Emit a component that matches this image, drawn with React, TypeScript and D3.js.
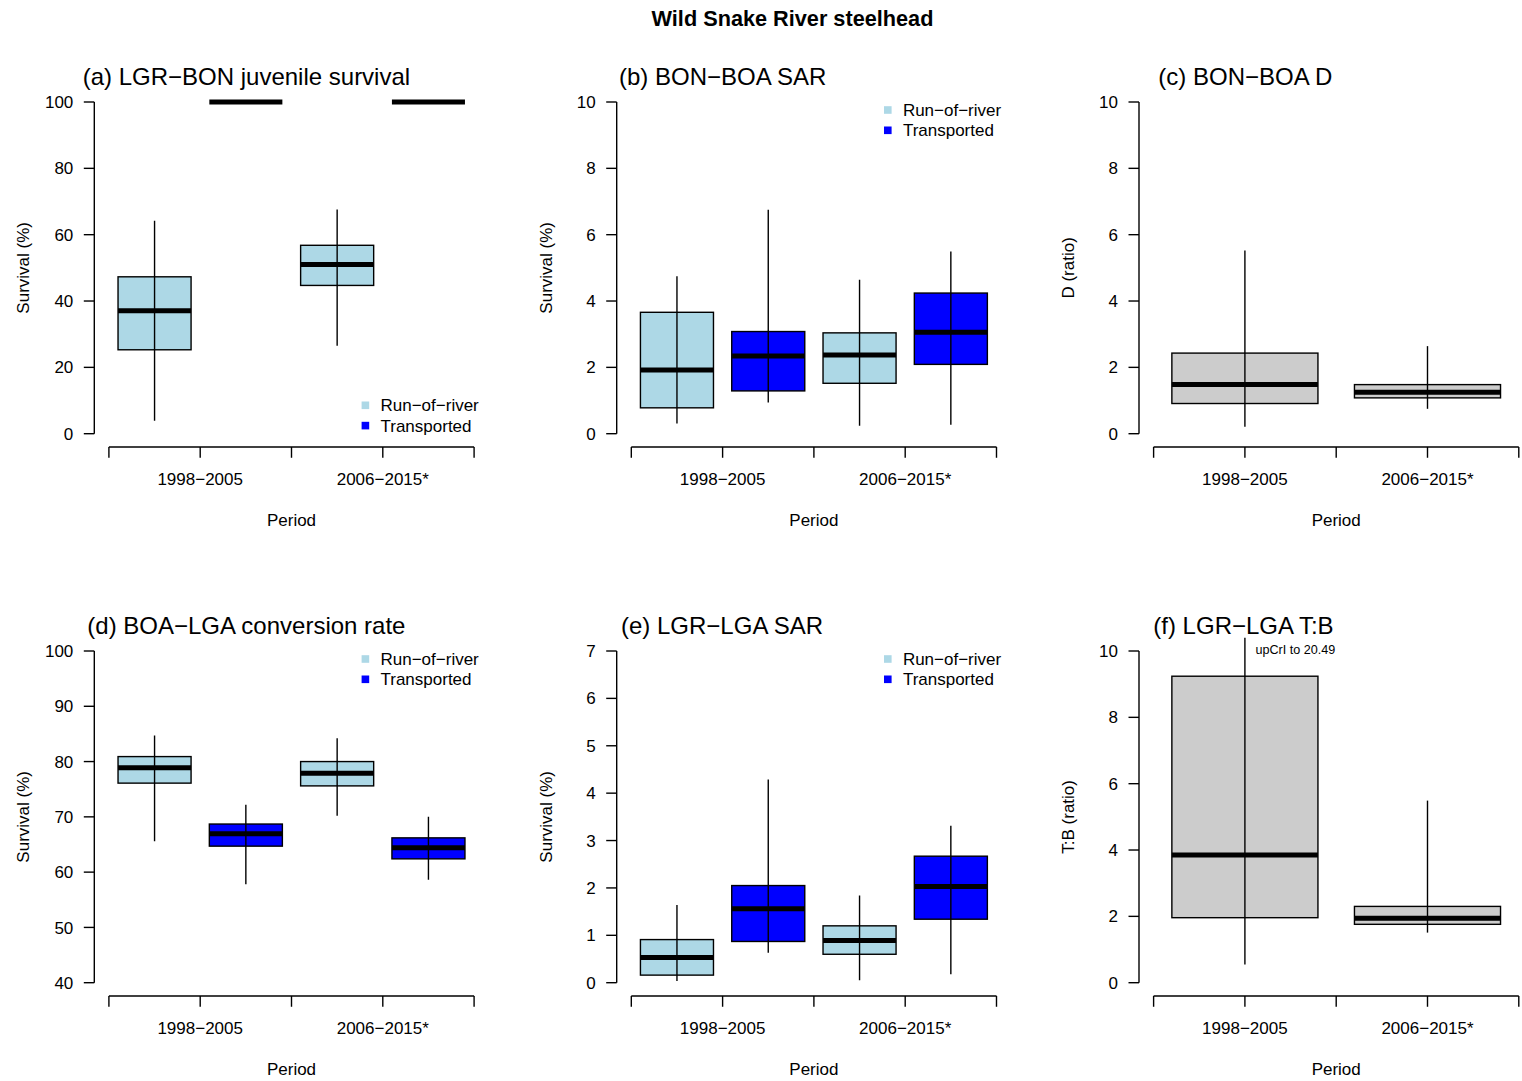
import React from "react";
import * as d3 from "d3";

// Period labels and group names
const PERIODS = ["1998−2005", "2006−2015*"];
const GROUP_NAMES = ["Run−of−river", "Transported"];
const GROUP_COLORS = ["#ADD8E6", "#0000FF"];
const RATIO_COLOR = "#CCCCCC";

// Box statistics per period: [lower CrI, Q1, median, Q3, upper CrI]
const juvSurvivalRoR = [[3.9, 25.3, 37.1, 47.3, 64.2], [26.5, 44.7, 51.0, 56.8, 67.6]];
const juvSurvivalTrans = [[100, 100, 100, 100, 100], [100, 100, 100, 100, 100]];
const bonBoaSarRoR = [[0.31, 0.78, 1.92, 3.66, 4.75], [0.24, 1.52, 2.37, 3.04, 4.64]];
const bonBoaSarTrans = [[0.94, 1.29, 2.34, 3.08, 6.75], [0.27, 2.09, 3.06, 4.24, 5.49]];
const bonBoaD = [[0.21, 0.91, 1.48, 2.43, 5.52], [0.75, 1.08, 1.25, 1.48, 2.64]];
const conversionRoR = [[65.6, 76.1, 78.9, 80.9, 84.7], [70.2, 75.6, 77.9, 80.0, 84.2]];
const conversionTrans = [[57.8, 64.7, 66.95, 68.7, 72.2], [58.6, 62.4, 64.4, 66.2, 70.0]];
const lgrLgaSarRoR = [[0.035, 0.16, 0.53, 0.91, 1.64], [0.05, 0.6, 0.89, 1.2, 1.84]];
const lgrLgaSarTrans = [[0.63, 0.87, 1.56, 2.05, 4.29], [0.18, 1.34, 2.03, 2.67, 3.31]];
const tbRatio = [[0.55, 1.96, 3.85, 9.24, 20.49], [1.51, 1.76, 1.94, 2.3, 5.49]];

// Y-axis tick values
const ticksPct100 = [0, 20, 40, 60, 80, 100];
const ticksTen = [0, 2, 4, 6, 8, 10];
const ticksConversion = [40, 50, 60, 70, 80, 90, 100];
const ticksSeven = [0, 1, 2, 3, 4, 5, 6, 7];

type Box = { stats: number[]; fill: string };

// interleave run-of-river and transported boxes by period
const paired = (ror: number[][], trans: number[][]): Box[] =>
  ror.flatMap((s, i) => [
    { stats: s, fill: GROUP_COLORS[0] },
    { stats: trans[i], fill: GROUP_COLORS[1] },
  ]);
const single = (vals: number[][]): Box[] => vals.map((s) => ({ stats: s, fill: RATIO_COLOR }));

const FONT = "Helvetica, Arial, 'Liberation Sans', sans-serif";
const COL_LEFT = [94.3, 616.7, 1139.0];
const ROW_TOP = [102, 651];
const AXIS_H = 331.7;
const PLOT_W = 394.4;

const panels = [
  { title: "(a) LGR−BON juvenile survival", titleX: 82.7, ylab: "Survival (%)", ticks: ticksPct100, boxes: paired(juvSurvivalRoR, juvSurvivalTrans), legend: "bottom" },
  { title: "(b) BON−BOA SAR", titleX: 619, ylab: "Survival (%)", ticks: ticksTen, boxes: paired(bonBoaSarRoR, bonBoaSarTrans), legend: "top" },
  { title: "(c) BON−BOA D", titleX: 1158.3, ylab: "D (ratio)", ticks: ticksTen, boxes: single(bonBoaD), legend: null },
  { title: "(d) BOA−LGA conversion rate", titleX: 87.3, ylab: "Survival (%)", ticks: ticksConversion, boxes: paired(conversionRoR, conversionTrans), legend: "top" },
  { title: "(e) LGR−LGA SAR", titleX: 621, ylab: "Survival (%)", ticks: ticksSeven, boxes: paired(lgrLgaSarRoR, lgrLgaSarTrans), legend: "top" },
  { title: "(f) LGR−LGA T:B", titleX: 1153.3, ylab: "T:B (ratio)", ticks: ticksTen, boxes: single(tbRatio), legend: null, note: true },
];

function Panel({ cfg, idx }: { cfg: any; idx: number }) {
  const col = idx % 3;
  const row = Math.floor(idx / 3);
  const left = COL_LEFT[col];
  const yTop = ROW_TOP[row];
  const yBot = yTop + AXIS_H;
  const n = cfg.boxes.length;
  const ext = 0.04 * n;
  const x = d3.scaleLinear().domain([0.5 - ext, n + 0.5 + ext]).range([left, left + PLOT_W]);
  const t0 = cfg.ticks[0];
  const t1 = cfg.ticks[cfg.ticks.length - 1];
  const r = t1 - t0;
  const y = d3.scaleLinear().domain([t0, t1]).range([yBot, yTop]);
  const plotTop = y(t1 + 0.04 * r);
  const plotBottom = y(t0 - 0.04 * r);
  const half = 0.4;
  const clipId = `clip-${idx}`;
  const xTicks = d3.range(0, 5).map((i) => 0.5 + (i * n) / 4);
  const perPeriod = n / PERIODS.length;
  const labelPos = PERIODS.map((_, p) => p * perPeriod + (perPeriod + 1) / 2);
  const midY = (yTop + yBot) / 2;
  const midX = (x(0.5) + x(n + 0.5)) / 2;

  const legendY = cfg.legend === "bottom" ? yTop + 303.3 : yTop + 8;

  return (
    <g>
      <defs>
        <clipPath id={clipId}>
          <rect x={x.range()[0]} y={plotTop} width={PLOT_W} height={plotBottom - plotTop} />
        </clipPath>
      </defs>
      <text x={cfg.titleX} y={yTop - 17} fontSize={24} fontFamily={FONT} fill="#000">
        {cfg.title}
      </text>
      {/* boxes */}
      <g clipPath={`url(#${clipId})`}>
        {cfg.boxes.map((b: Box, i: number) => {
          const cx = x(i + 1);
          const [lo, q1, md, q3, hi] = b.stats;
          return (
            <g key={i}>
              <rect
                x={x(i + 1 - half)}
                y={y(q3)}
                width={x(i + 1 + half) - x(i + 1 - half)}
                height={Math.max(0, y(q1) - y(q3))}
                fill={b.fill}
                stroke="#000"
                strokeWidth={1.4}
              />
              <line x1={cx} x2={cx} y1={y(lo)} y2={y(hi)} stroke="#000" strokeWidth={1.4} />
              <line
                x1={x(i + 1 - half)}
                x2={x(i + 1 + half)}
                y1={y(md)}
                y2={y(md)}
                stroke="#000"
                strokeWidth={5}
                strokeLinecap="butt"
              />
            </g>
          );
        })}
      </g>
      {/* y axis */}
      <line x1={left} x2={left} y1={y(t0)} y2={y(t1)} stroke="#000" strokeWidth={1.4} />
      {cfg.ticks.map((t: number) => (
        <g key={t}>
          <line x1={left - 10.5} x2={left} y1={y(t)} y2={y(t)} stroke="#000" strokeWidth={1.4} />
          <text x={left - 21} y={y(t) + 6.1} textAnchor="end" fontSize={17} fontFamily={FONT} fill="#000">
            {t}
          </text>
        </g>
      ))}
      <text
        transform={`translate(${left - 65},${midY}) rotate(-90)`}
        textAnchor="middle"
        fontSize={17}
        fontFamily={FONT}
        fill="#000"
      >
        {cfg.ylab}
      </text>
      {/* x axis */}
      <line x1={x(0.5)} x2={x(n + 0.5)} y1={plotBottom} y2={plotBottom} stroke="#000" strokeWidth={1.4} />
      {xTicks.map((t) => (
        <line key={t} x1={x(t)} x2={x(t)} y1={plotBottom} y2={plotBottom + 10.8} stroke="#000" strokeWidth={1.4} />
      ))}
      {labelPos.map((p, i) => (
        <text key={i} x={x(p)} y={plotBottom + 38.2} textAnchor="middle" fontSize={17} fontFamily={FONT} fill="#000">
          {PERIODS[i]}
        </text>
      ))}
      <text x={midX} y={plotBottom + 79.2} textAnchor="middle" fontSize={17} fontFamily={FONT} fill="#000">
        Period
      </text>
      {/* legend */}
      {cfg.legend &&
        GROUP_NAMES.map((g, i) => {
          const cy = legendY + i * 20.3;
          return (
            <g key={g}>
              <rect x={left + 267.3} y={cy - 3.8} width={7.6} height={7.6} fill={GROUP_COLORS[i]} />
              <text x={left + 286.2} y={cy + 6.1} fontSize={17} fontFamily={FONT} fill="#000">
                {g}
              </text>
            </g>
          );
        })}
      {cfg.note && (
        <text x={x(1) + 10.5} y={yTop + 3.3} fontSize={12.6} fontFamily={FONT} fill="#000">
          {`upCrI to ${cfg.boxes[0].stats[4].toFixed(2)}`}
        </text>
      )}
    </g>
  );
}

export default function App() {
  return (
    <svg
      width={1522}
      height={1081}
      style={{ position: "absolute", left: 0, top: 0, background: "#fff" }}
    >
      <rect width={1522} height={1081} fill="#fff" />
      <text
        x={792.5}
        y={25.5}
        textAnchor="middle"
        fontSize={21.7}
        fontWeight="bold"
        fontFamily={FONT}
        fill="#000"
      >
        Wild Snake River steelhead
      </text>
      {panels.map((p, i) => (
        <Panel key={i} cfg={p} idx={i} />
      ))}
    </svg>
  );
}
